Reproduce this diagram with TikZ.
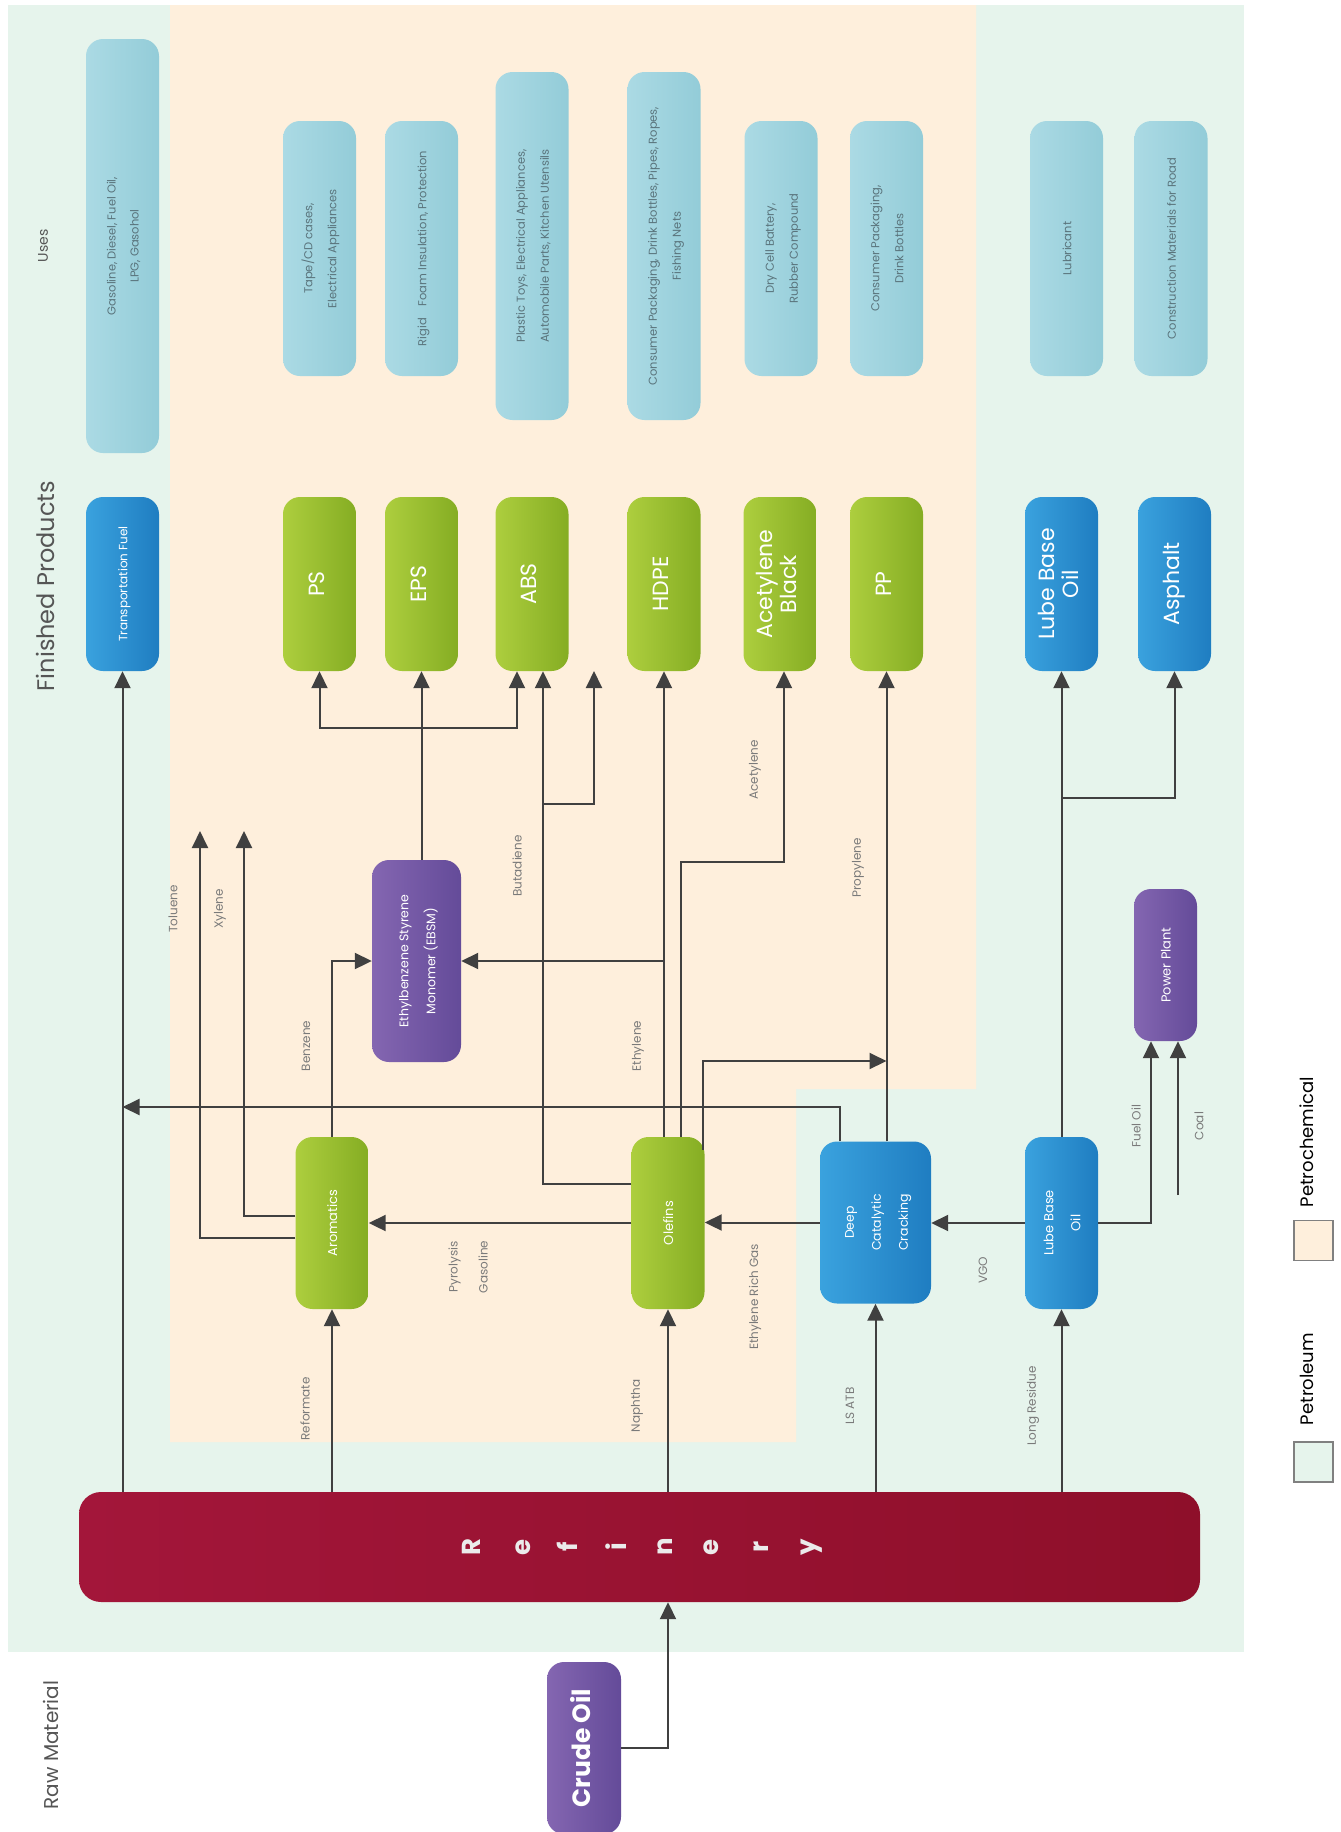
\documentclass[tikz,border=0pt]{standalone}
\usepackage{fontspec}
\setmainfont{Poppins}
\usetikzlibrary{arrows.meta,calc}
\definecolor{mint}{HTML}{E6F4EC}
\definecolor{peach}{HTML}{FEEFDC}
\definecolor{ublueL}{HTML}{ABDAE4}
\definecolor{ublueR}{HTML}{93CCD8}
\definecolor{blueL}{HTML}{3AA2DE}
\definecolor{blueR}{HTML}{1F7DC1}
\definecolor{greenL}{HTML}{ADCE3E}
\definecolor{greenR}{HTML}{85AD23}
\definecolor{purpL}{HTML}{8466B1}
\definecolor{purpR}{HTML}{644B99}
\definecolor{redL}{HTML}{A3163A}
\definecolor{redR}{HTML}{8E0F2A}
\definecolor{linec}{HTML}{404040}
\definecolor{lblc}{HTML}{7A7A7A}
\definecolor{usec}{HTML}{5A747C}
\definecolor{secc}{HTML}{555555}
\newcommand{\vt}[3]{\rotatebox{90}{\fontsize{#1}{#2}\selectfont\begin{tabular}{@{}c@{}}#3\end{tabular}}}
\begin{document}
\begin{tikzpicture}[x=1pt,y=-1pt,
  box/.style={rounded corners=17pt, inner sep=0pt, minimum width=73pt, minimum height=174pt, text=white},
  gbox/.style={box, left color=greenL, right color=greenR},
  bbox/.style={box, left color=blueL, right color=blueR},
  pbox/.style={box, left color=purpL, right color=purpR},
  ubox/.style={box, left color=ublueL, right color=ublueR, text=usec, minimum height=255pt},
  rbox/.style={box, rounded corners=22pt, left color=redL, right color=redR, minimum width=1121pt, minimum height=110pt},
  arr/.style={draw=linec, line width=2pt, -{Triangle[length=17pt,width=16pt]}},
  lbl/.style={rotate=90, text=lblc, font=\fontsize{12}{30}\selectfont, inner sep=0pt, align=center},
  sec/.style={rotate=90, text=secc, inner sep=0pt},
  reflet/.style={rotate=90, text=white!92!black, font=\fontsize{26}{30}\selectfont\bfseries, inner sep=0pt},
  swatch/.style={draw=gray, line width=1.5pt, minimum width=39pt, minimum height=40pt, inner sep=0pt}
]
\fill[white] (0,0) rectangle (1341,1832);
\useasboundingbox (0,0) rectangle (1341,1832);
\fill[mint] (8,5) rectangle (1244,1652);
\fill[peach] (170,5) -- (976,5) -- (976,1089) -- (796,1089) -- (796,1442) -- (170,1442) -- cycle;

% section titles
\node[sec, font=\fontsize{14}{16}\selectfont] (tUses) at (43,246) {Uses};
\node[sec, font=\fontsize{24}{28}\selectfont] (tFP) at (45,586) {Finished Products};
\node[sec, font=\fontsize{20}{24}\selectfont] (tRM) at (51,1745) {Raw Material};

% uses
\node[ubox, minimum height=414pt] (u1) at (122.5,246) {\vt{11.5}{23}{Gasoline, Diesel, Fuel Oil,\\LPG, Gasohol}};
\node[ubox] (u2) at (319.5,248.5) {\vt{11.5}{24}{Tape/CD cases,\\Electrical Appliances}};
\node[ubox] (u3) at (421.5,248.5) {\vt{11.5}{24}{Rigid\quad Foam Insulation, Protection}};
\node[ubox, minimum height=348pt] (u4) at (532,246) {\vt{11.5}{24}{Plastic Toys, Electrical Appliances,\\Automobile Parts, Kitchen Utensils}};
\node[ubox, minimum height=348pt] (u5) at (664,246) {\vt{11.5}{24}{Consumer Packaging, Drink Bottles, Pipes, Ropes,\\Fishing Nets}};
\node[ubox] (u6) at (781,248.5) {\vt{11.5}{24}{Dry Cell Battery,\\Rubber Compound}};
\node[ubox] (u7) at (886.5,248.5) {\vt{11.5}{24}{Consumer Packaging,\\Drink Bottles}};
\node[ubox] (u8) at (1066.5,248.5) {\vt{11.5}{24}{Lubricant}};
\node[ubox] (u9) at (1171,248.5) {\vt{11.5}{24}{Construction Materials for Road}};

% finished products
\node[bbox] (tf) at (122.5,584) {\vt{12}{24}{Transportation Fuel}};
\node[gbox] (ps) at (319.5,584) {\vt{22}{24}{PS}};
\node[gbox] (eps) at (421.5,584) {\vt{22}{24}{EPS}};
\node[gbox] (abs) at (532,584) {\vt{22}{24}{ABS}};
\node[gbox] (hdpe) at (664,584) {\vt{22}{24}{HDPE}};
\node[gbox] (ab) at (780,584) {\vt{22}{24}{Acetylene\\Black}};
\node[gbox] (pp) at (886.5,584) {\vt{22}{24}{PP}};
\node[bbox] (lbo1) at (1061.5,584) {\vt{22}{22}{Lube Base\\Oil}};
\node[bbox] (asp) at (1174.5,584) {\vt{22}{24}{Asphalt}};

% intermediates
\node[pbox, minimum width=89pt, minimum height=202pt] (ebsm) at (416.5,961) {\vt{12.5}{27}{Ethylbenzene Styrene\\Monomer (EBSM)}};
\node[pbox, minimum width=63pt, minimum height=152pt] (pplant) at (1165.5,965) {\vt{13}{26}{Power Plant}};
\node[gbox, minimum height=172pt] (arom) at (332,1223) {\vt{13}{26}{Aromatics}};
\node[gbox, minimum height=172pt] (olef) at (668,1223) {\vt{13}{26}{Olefins}};
\node[bbox, minimum width=111pt, minimum height=162pt] (dcc) at (875.5,1222.5) {\vt{12.5}{27}{Deep\\Catalytic\\Cracking}};
\node[bbox, minimum height=172pt] (lbo2) at (1061.5,1223) {\vt{13}{27}{Lube Base\\Oil}};

% refinery and crude
\node[rbox] (ref) at (639.5,1547) {};
\foreach \x/\l [count=\i] in {471/R,523/e,567/f,616/i,665/n,711/e,761/r,812/y}
  \node[reflet] (rl\i) at (\x,1547) {\l};
\node[pbox, minimum width=74pt, minimum height=172pt] (crude) at (584,1748) {\vt{25}{30}{\bfseries Crude Oil}};

% helper coordinates
\coordinate (tolB) at (200,1238);
\coordinate (tolT) at (200,831);
\coordinate (xylB) at (244,1216);
\coordinate (xylT) at (244,831);
\coordinate (butB) at (543,1184);
\coordinate (butJ) at (543,804);
\coordinate (butT) at (594,671);
\coordinate (ebJ) at (421.5,728);
\coordinate (absJ) at (517,728);
\coordinate (acB) at (681,862);
\coordinate (acX) at (784,862);
\coordinate (prS) at (703,1150);
\coordinate (prB) at (703,1061);
\coordinate (dtB) at (840,1107);
\coordinate (lbJ) at (1061.5,798);
\coordinate (foB) at (1151,1225);
\coordinate (coal) at (1178,1195);

% connectors
\draw[arr] (crude.east) -- (crude.east -| olef) -- (olef |- ref.south);
\draw[arr] (tf |- ref.north) -- (tf.south);
\draw[arr] (arom |- ref.north) -- (arom.south);
\draw[arr] (olef |- ref.north) -- (olef.south);
\draw[arr] (dcc |- ref.north) -- (dcc.south);
\draw[arr] (lbo2 |- ref.north) -- (lbo2.south);
\draw[arr] (lbo2.west) -- (lbo2.west -| dcc.east);
\draw[arr] (dcc.west) -- (dcc.west -| olef.east);
\draw[arr] (olef.west) -- (olef.west -| arom.east);
\draw[arr] (arom.west |- tolB) -- (tolB) -- (tolT);
\draw[arr] (arom.west |- xylB) -- (xylB) -- (xylT);
\draw[arr] (arom.north) -- (arom.north |- ebsm.west) -- (ebsm.west);
\draw[arr] (hdpe |- olef.north) -- (hdpe.south);
\draw[arr] (hdpe |- ebsm.east) -- (ebsm.east);
\draw[arr] (olef.west |- butB) -- (butB) -- (butB |- abs.south);
\draw[arr] (butJ) -- (butJ -| butT) -- (butT);
\draw[arr] (eps |- ebsm.north) -- (eps.south);
\draw[arr] (ebJ) -- (ebJ -| ps) -- (ps.south);
\draw[arr] (ebJ) -- (absJ) -- (absJ |- abs.south);
\draw[arr] (acB |- olef.north) -- (acB) -- (acX) -- (acX |- ab.south);
\draw[arr] (prS) -- (prB) -- (prB -| pp);
\draw[arr] (pp |- dcc.north) -- (pp.south);
\draw[arr] (dtB |- dcc.north) -- (dtB) -- (dtB -| tf);
\draw[arr] (lbo2.north) -- (lbo1.south);
\draw[arr] (lbJ) -- (lbJ -| asp) -- (asp.south);
\draw[arr] (lbo2.east) -- (lbo2.east -| foB) -- (foB |- pplant.south);
\draw[arr] (coal) -- (coal |- pplant.south);

% labels
\node[lbl] (lRef) at (305,1409) {Reformate};
\node[lbl] (lNap) at (637,1406) {Naphtha};
\node[lbl] (lLS) at (850,1406) {LS ATB};
\node[lbl] (lLR) at (1033,1406) {Long Residue};
\node[lbl] (lVGO) at (983,1270) {VGO};
\node[lbl] (lERG) at (755,1297) {Ethylene Rich Gas};
\node[lbl] (lPG) at (468,1267) {Pyrolysis\\Gasoline};
\node[lbl] (lTol) at (173,909) {Toluene};
\node[lbl] (lXyl) at (220,909) {Xylene};
\node[lbl] (lBen) at (306,1046) {Benzene};
\node[lbl] (lBut) at (517,866) {Butadiene};
\node[lbl] (lEth) at (638,1046) {Ethylene};
\node[lbl] (lAce) at (755,770) {Acetylene};
\node[lbl] (lPro) at (858,868) {Propylene};
\node[lbl] (lFO) at (1136,1126) {Fuel Oil};
\node[lbl] (lCoal) at (1199,1126) {Coal};

% legend
\node[swatch, fill=peach] (lgPC) at (1313.5,1240.5) {};
\node[rotate=90, font=\fontsize{18}{20}\selectfont, inner sep=0pt] (lgPCt) at (1307,1142) {Petrochemical};
\node[swatch, fill=mint] (lgPL) at (1313.5,1462) {};
\node[rotate=90, font=\fontsize{18}{20}\selectfont, inner sep=0pt] (lgPLt) at (1307,1379) {Petroleum};
\end{tikzpicture}
\end{document}
